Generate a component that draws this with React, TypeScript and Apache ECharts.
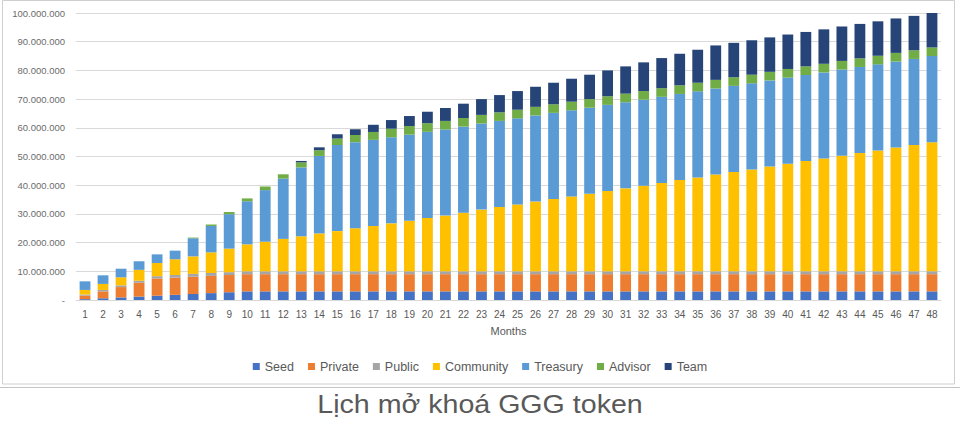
import { useEffect, useRef } from "react";
import * as echarts from "echarts";

const months = [
  "1", "2", "3", "4", "5", "6", "7", "8", "9", "10", "11", "12",
  "13", "14", "15", "16", "17", "18", "19", "20", "21", "22", "23", "24",
  "25", "26", "27", "28", "29", "30", "31", "32", "33", "34", "35", "36",
  "37", "38", "39", "40", "41", "42", "43", "44", "45", "46", "47", "48",
];

// values in millions of tokens
const seed = [
  0.3, 0.6, 0.9, 1.2, 1.5, 1.8, 2.1, 2.4, 2.7, 3, 3, 3,
  3, 3, 3, 3, 3, 3, 3, 3, 3, 3, 3, 3,
  3, 3, 3, 3, 3, 3, 3, 3, 3, 3, 3, 3,
  3, 3, 3, 3, 3, 3, 3, 3, 3, 3, 3, 3,
];
const privateSale = [
  1.2, 2.4, 3.6, 4.8, 6, 6, 6, 6, 6, 6, 6, 6,
  6, 6, 6, 6, 6, 6, 6, 6, 6, 6, 6, 6,
  6, 6, 6, 6, 6, 6, 6, 6, 6, 6, 6, 6,
  6, 6, 6, 6, 6, 6, 6, 6, 6, 6, 6, 6,
];
const publicSale = [
  0.4, 0.5, 0.6, 0.7, 0.8, 0.9, 1, 1, 1, 1, 1, 1,
  1, 1, 1, 1, 1, 1, 1, 1, 1, 1, 1, 1,
  1, 1, 1, 1, 1, 1, 1, 1, 1, 1, 1, 1,
  1, 1, 1, 1, 1, 1, 1, 1, 1, 1, 1, 1,
];
const community = [
  1.6, 2.1, 2.8, 3.8, 4.6, 5.5, 6.1, 7.2, 8.2, 9.4, 10.3, 11.3,
  12.2, 13.2, 14.0, 15.0, 15.8, 16.7, 17.6, 18.6, 19.4, 20.4, 21.5, 22.4,
  23.3, 24.3, 25.2, 26.1, 27.0, 28.0, 28.9, 29.8, 30.8, 31.8, 32.7, 33.7,
  34.6, 35.5, 36.5, 37.5, 38.4, 39.3, 40.3, 41.2, 42.1, 43.1, 44.0, 45.0,
];
const treasury = [
  3, 3, 3, 3, 3, 3, 6.3, 9.2, 12, 15, 18, 21,
  24, 27, 30, 30, 30, 30, 30, 30, 30, 30, 30, 30,
  30, 30, 30, 30, 30, 30, 30, 30, 30, 30, 30, 30,
  30, 30, 30, 30, 30, 30, 30, 30, 30, 30, 30, 30,
];
const advisor = [
  0, 0, 0, 0, 0, 0, 0.25, 0.5, 0.75, 1, 1.25, 1.5,
  1.75, 2, 2.25, 2.5, 2.75, 3, 3, 3, 3, 3, 3, 3,
  3, 3, 3, 3, 3, 3, 3, 3, 3, 3, 3, 3,
  3, 3, 3, 3, 3, 3, 3, 3, 3, 3, 3, 3,
];
const team = [
  0, 0, 0, 0, 0, 0, 0, 0, 0, 0, 0, 0,
  0.5, 1, 1.5, 2, 2.5, 3, 3.5, 4, 4.5, 5, 5.5, 6,
  6.5, 7, 7.5, 8, 8.5, 9, 9.5, 10, 10.5, 11, 11.5, 12,
  12, 12, 12, 12, 12, 12, 12, 12, 12, 12, 12, 12,
];

const seriesNames = ["Seed", "Private", "Public", "Community", "Treasury", "Advisor", "Team"];
const seriesData = [seed, privateSale, publicSale, community, treasury, advisor, team];
const seriesColors = ["#4472C4", "#ED7D31", "#A5A5A5", "#FFC000", "#5B9BD5", "#70AD47", "#264478"];

const yMax = 100000000;
const yInterval = 10000000;
const UNIT = 1000000;

const caption = "Lịch mở khoá GGG token";
const axisTitle = "Months";

function fmt(v: number): string {
  if (v === 0) return "-";
  return String(Math.round(v)).replace(/\B(?=(\d{3})+(?!\d))/g, ".");
}

export default function App() {
  const ref = useRef<HTMLDivElement>(null);
  useEffect(() => {
    if (!ref.current) return;
    const chart = echarts.init(ref.current, null, { renderer: "svg" });
    const font = "Liberation Sans, Arial, sans-serif";
    chart.setOption({
      animation: false,
      backgroundColor: "#ffffff",
      textStyle: { fontFamily: font },
      grid: { left: 76, right: 19, top: 13, bottom: 138 },
      legend: {
        data: seriesNames,
        left: "center",
        top: 355,
        icon: "rect",
        itemWidth: 7,
        itemHeight: 7,
        itemGap: 14,
        textStyle: { fontSize: 12.5, color: "#595959", fontFamily: font },
      },
      xAxis: {
        type: "category",
        data: months,
        name: axisTitle,
        nameLocation: "middle",
        nameGap: 25,
        nameTextStyle: { fontSize: 11, color: "#595959", fontFamily: font },
        axisLine: { show: true, lineStyle: { color: "#d9d9d9" } },
        axisTick: { show: false },
        axisLabel: { fontSize: 10, color: "#595959", margin: 9, interval: 0, fontFamily: font },
      },
      yAxis: {
        type: "value",
        min: 0,
        max: yMax,
        interval: yInterval,
        axisLine: { show: false },
        axisTick: { show: false },
        splitLine: { lineStyle: { color: "#d9d9d9" } },
        axisLabel: { fontSize: 9.5, color: "#6b6b6b", margin: 11, formatter: fmt, fontFamily: font },
      },
      series: seriesNames.map((name, i) => ({
        name,
        type: "bar",
        stack: "total",
        barWidth: "60%",
        itemStyle: { color: seriesColors[i] },
        data: seriesData[i].map((v) => v * UNIT),
      })),
      graphic: [
        {
          type: "rect",
          silent: true,
          shape: { x: 2.5, y: 0.5, width: 952, height: 383.5 },
          style: { fill: "none", stroke: "#cfcfcf", lineWidth: 1 },
        },
        {
          type: "line",
          silent: true,
          shape: { x1: 0, y1: 387.5, x2: 960, y2: 387.5 },
          style: { stroke: "#c4c4c4", lineWidth: 1 },
        },
        {
          type: "text",
          x: 480,
          y: 404,
          scaleX: 1.1,
          style: {
            text: caption,
            fontSize: 26,
            fontFamily: font,
            fill: "#595959",
            align: "center",
            verticalAlign: "middle",
          },
        },
      ],
    });
    return () => chart.dispose();
  }, []);
  return (
    <div
      ref={ref}
      style={{ position: "fixed", left: 0, top: 0, width: 960, height: 438 }}
    />
  );
}
